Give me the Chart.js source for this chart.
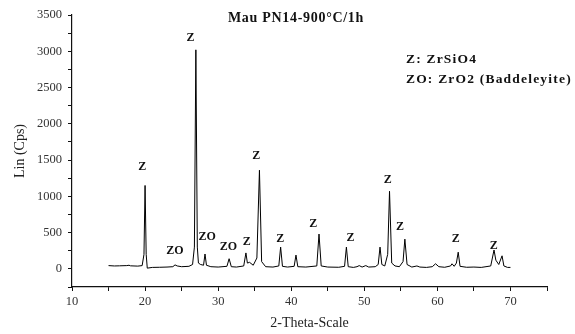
<!DOCTYPE html>
<html>
<head>
<meta charset="utf-8">
<script src="https://cdn.jsdelivr.net/npm/chart.js@4"></script>
<style>
  html, body { margin: 0; padding: 0; background: #fff; }
  #wrap { width: 575px; height: 334px; }
</style>
</head>
<body>
<div id="wrap"><canvas id="xrd" width="575" height="334"></canvas></div>
<script>
// 2-theta positions (deg) and intensities (Cps)
const twoTheta = [
  15.0, 15.8, 16.5, 17.5, 17.8, 18.0, 19.0, 19.6, 19.85, 20.0, 20.15, 20.3,
  21.0, 22.0, 23.0, 23.8, 24.1, 24.4, 25.0, 26.0, 26.5, 26.75, 26.95, 27.15,
  27.3, 27.6, 28.0, 28.2, 28.4, 29.0, 30.0, 31.2, 31.5, 31.8, 32.5, 33.5,
  33.8, 34.0, 34.3, 34.8, 35.3, 35.65, 35.95, 36.5, 37.5, 38.3, 38.55, 38.8,
  39.5, 40.4, 40.65, 40.9, 42.0, 43.5, 43.8, 44.1, 45.0, 46.5, 47.3, 47.55,
  47.8, 48.5, 49.0, 49.3, 49.7, 50.2, 50.6, 51.5, 51.9, 52.15, 52.4, 52.8,
  53.2, 53.45, 53.75, 54.2, 54.8, 55.3, 55.55, 55.85, 56.5, 57.2, 57.6, 58.5,
  59.3, 59.75, 60.2, 61.0, 61.8, 62.0, 62.3, 62.6, 62.85, 63.1, 64.0, 65.0,
  66.0, 67.3, 67.75, 68.0, 68.4, 68.85, 69.1, 69.6, 70.0
];
const counts = [
  45, 40, 42, 45, 50, 42, 38, 45, 200, 1150, 200, 10,
  20, 22, 25, 30, 55, 40, 30, 35, 60, 300, 3020, 300,
  80, 60, 50, 205, 50, 30, 25, 35, 140, 30, 25, 40,
  220, 80, 90, 50, 150, 1360, 100, 30, 25, 40, 300, 35,
  25, 35, 190, 30, 25, 40, 480, 40, 25, 22, 35, 300,
  30, 20, 30, 45, 25, 45, 25, 30, 60, 300, 60, 40,
  200, 1070, 80, 40, 30, 100, 410, 60, 25, 40, 25, 20,
  30, 70, 30, 22, 40, 70, 35, 80, 230, 35, 22, 25,
  20, 40, 260, 120, 60, 180, 40, 20, 20
];

// phase labels over the peaks
const peakLabels = ['Z', 'ZO', 'Z', 'ZO', 'ZO', 'Z', 'Z', 'Z', 'Z', 'Z', 'Z', 'Z', 'Z', 'Z'];
const peakLabelX = [19.6, 24.1, 26.2, 28.5, 31.4, 33.9, 35.2, 38.5, 43.0, 48.1, 53.2, 54.9, 62.5, 67.7];
const peakLabelY = [1400, 250, 3180, 440, 300, 370, 1560, 410, 620, 420, 1220, 580, 410, 320];

const chartTitle = 'Mau PN14-900\u00B0C/1h';
const phaseKey = ['Z: ZrSiO4', 'ZO: ZrO2 (Baddeleyite)'];

const serif = '"Liberation Serif", "DejaVu Serif", serif';

// 在圖上寫標籤與圖例文字
const textPlugin = {
    id: 'xrdText',
    afterDatasetsDraw(chart) {
        const ctx = chart.ctx;
        const xs = chart.scales.x;
        const ys = chart.scales.y;
        ctx.save();
        ctx.fillStyle = '#111';
        ctx.textAlign = 'center';
        ctx.textBaseline = 'middle';
        ctx.font = 'bold 12px ' + serif;
        peakLabels.forEach((t, i) => {
            ctx.fillText(t, xs.getPixelForValue(peakLabelX[i]), ys.getPixelForValue(peakLabelY[i]));
        });

        // title
        ctx.font = 'bold 14px ' + serif;
        ctx.letterSpacing = '0.7px';
        ctx.fillText(chartTitle, xs.getPixelForValue(40.65), ys.getPixelForValue(3459));

        // phase key
        ctx.textAlign = 'left';
        ctx.font = 'bold 13.5px ' + serif;
        ctx.letterSpacing = '1.2px';
        ctx.fillText(phaseKey[0], xs.getPixelForValue(55.7), ys.getPixelForValue(2890));
        ctx.fillText(phaseKey[1], xs.getPixelForValue(55.7), ys.getPixelForValue(2616));
        ctx.restore();
    }
};

const axisGrid = {
    drawOnChartArea: false,
    drawTicks: true,
    tickLength: 4,
    color: '#111'
};

new Chart(document.getElementById('xrd').getContext('2d'), {
    type: 'line',
    data: {
        labels: twoTheta,
        datasets: [{
            data: twoTheta.map((x, i) => ({ x: x, y: counts[i] })),
            borderColor: '#000',
            borderWidth: 1,
            pointRadius: 0,
            tension: 0,
            fill: false
        }]
    },
    options: {
        responsive: false,
        animation: false,
        layout: { padding: { top: 15, right: 28, left: 0, bottom: 0 } },
        plugins: {
            legend: { display: false },
            tooltip: { enabled: false }
        },
        scales: {
            x: {
                type: 'linear',
                min: 10,
                max: 75,
                afterFit: s => { s.height = 47; },
                border: { display: true, color: '#111', width: 1.2 },
                grid: axisGrid,
                ticks: {
                    stepSize: 5,
                    autoSkip: false,
                    maxRotation: 0,
                    padding: 3,
                    color: '#333',
                    font: { family: serif, size: 12.5 },
                    callback: v => (v % 10 === 0 ? v : '')
                },
                title: {
                    display: true,
                    text: '2-Theta-Scale',
                    color: '#222',
                    font: { family: serif, size: 14 },
                    padding: { top: 0, bottom: 2 }
                }
            },
            y: {
                type: 'linear',
                min: -250,
                max: 3500,
                afterFit: s => { s.width = 72; },
                border: { display: true, color: '#111', width: 1.2 },
                grid: axisGrid,
                ticks: {
                    stepSize: 250,
                    autoSkip: false,
                    padding: 6,
                    color: '#333',
                    font: { family: serif, size: 12.5 },
                    callback: v => (v % 500 === 0 && v >= 0 ? v : '')
                },
                title: {
                    display: true,
                    text: 'Lin (Cps)',
                    color: '#222',
                    font: { family: serif, size: 14 },
                    padding: { top: 12, bottom: 0 }
                }
            }
        }
    },
    plugins: [textPlugin]
});
</script>
</body>
</html>
